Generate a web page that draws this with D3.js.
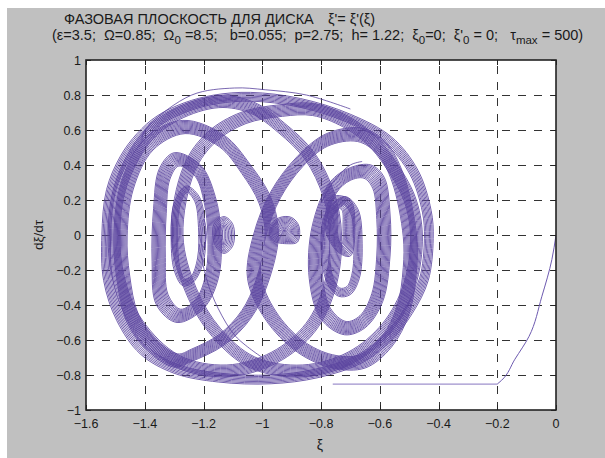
<!DOCTYPE html>
<html lang="ru">
<head>
<meta charset="utf-8">
<script src="https://d3js.org/d3.v7.min.js"></script>
<style>
  body { margin: 0; background: #fff; }
  svg { display: block; }
  text { font-family: "Liberation Sans", Arial, sans-serif; fill: #1a1a1a; white-space: pre; }
</style>
</head>
<body>
<svg id="chart" width="605" height="458"></svg>
<script>
// axis ticks
var xTicks = [-1.6, -1.4, -1.2, -1, -0.8, -0.6, -0.4, -0.2, 0];
var yTicks = [-1, -0.8, -0.6, -0.4, -0.2, 0, 0.2, 0.4, 0.6, 0.8, 1];

// trajectory bands: [xi, dxi/dtau]
var ringO = [[-1.546,0],[-1.53,0.26],[-1.483,0.45],[-1.426,0.58],[-1.358,0.68],[-1.266,0.755],[-1.163,0.8],[-1.04,0.815],[-0.87,0.78],[-0.7,0.69],[-0.56,0.56],[-0.47,0.37],[-0.425,0.14],[-0.418,-0.02],[-0.435,-0.26],[-0.49,-0.45],[-0.56,-0.6],[-0.66,-0.73],[-0.81,-0.815],[-0.97,-0.85],[-1.15,-0.84],[-1.3,-0.79],[-1.415,-0.68],[-1.495,-0.49],[-1.54,-0.26]];
var ringL = [[-1.525,0],[-1.5,0.3],[-1.41,0.58],[-1.3,0.72],[-1.15,0.795],[-1.03,0.76],[-0.925,0.64],[-0.823,0.47],[-0.755,0.24],[-0.73,0],[-0.75,-0.3],[-0.82,-0.55],[-0.95,-0.73],[-1.12,-0.81],[-1.3,-0.75],[-1.44,-0.53],[-1.505,-0.28]];
var ringR = [[-1.31,0],[-1.266,0.4],[-1.186,0.587],[-1.073,0.7],[-0.936,0.745],[-0.823,0.75],[-0.71,0.68],[-0.618,0.57],[-0.55,0.43],[-0.48,0.22],[-0.455,0],[-0.48,-0.3],[-0.56,-0.55],[-0.69,-0.73],[-0.86,-0.81],[-1.04,-0.76],[-1.17,-0.58],[-1.26,-0.33]];
var ringA = [[-1.505,0],[-1.48,0.3],[-1.4,0.55],[-1.27,0.655],[-1.13,0.57],[-1.04,0.4],[-0.97,0.21],[-0.945,0],[-0.983,-0.286],[-1.039,-0.476],[-1.13,-0.629],[-1.243,-0.724],[-1.3,-0.755],[-1.39,-0.66],[-1.46,-0.5],[-1.495,-0.25]];
var ringF = [[-0.475,0],[-0.52,0.35],[-0.58,0.53],[-0.66,0.61],[-0.78,0.58],[-0.88,0.45],[-0.97,0.25],[-1.03,0],[-1.05,-0.25],[-0.99,-0.48],[-0.88,-0.67],[-0.76,-0.76],[-0.65,-0.76],[-0.56,-0.64],[-0.5,-0.45],[-0.475,-0.2]];
var ringB = [[-1.3,0.47],[-1.21,0.4],[-1.16,0.22],[-1.14,0],[-1.15,-0.25],[-1.2,-0.42],[-1.29,-0.5],[-1.36,-0.4],[-1.375,-0.15],[-1.37,0.15],[-1.35,0.38]];
var ringD = [[-0.63,0.4],[-0.585,0.33],[-0.565,0.12],[-0.565,-0.12],[-0.59,-0.38],[-0.65,-0.53],[-0.72,-0.57],[-0.8,-0.48],[-0.84,-0.25],[-0.83,0.05],[-0.77,0.3],[-0.7,0.385]];
var ringC = [[-1.26,0.28],[-1.215,0.22],[-1.195,0.05],[-1.2,-0.15],[-1.235,-0.27],[-1.27,-0.29],[-1.3,-0.2],[-1.31,0],[-1.3,0.18]];
var ringE = [[-0.72,0.22],[-0.675,0.15],[-0.66,-0.05],[-0.67,-0.25],[-0.7,-0.34],[-0.74,-0.35],[-0.78,-0.27],[-0.8,-0.06],[-0.785,0.12]];
var blobLeft = [[-1.13,0.105],[-1.1,0.06],[-1.1,-0.06],[-1.13,-0.105],[-1.16,-0.06],[-1.165,0.06]];
var blobMid = [[-0.94,0.1],[-0.9,0.1],[-0.875,0.05],[-0.88,-0.04],[-0.91,-0.05],[-0.965,-0.03],[-0.975,0.05]];
var blobRight = [[-0.76,0.22],[-0.7,0.2],[-0.685,0.05],[-0.7,-0.12],[-0.74,-0.1],[-0.78,0],[-0.785,0.12]];
// band width (in xi units) for each ring above
var ringList = [ringO, ringL, ringR, ringA, ringF, ringB, ringD, ringC, ringE, blobLeft, blobMid, blobRight];
var ringSpread = [0.03, 0.04, 0.04, 0.045, 0.045, 0.045, 0.045, 0.022, 0.028, 0.03, 0.045, 0.04];
// single passes
var topArc = [[-1.41,0.56],[-1.39,0.62],[-1.24,0.8],[-1.095,0.84],[-0.99,0.83],[-0.85,0.8],[-0.7,0.72]];
var strayLower = [[-1.215,-0.05],[-1.19,-0.25],[-1.15,-0.42],[-1.09,-0.58],[-1.0,-0.7]];
var strayUpper = [[-0.8,0.18],[-0.76,0.3],[-0.7,0.4],[-0.66,0.42]];
var tinyLoop = [[-1.2,0.09],[-1.19,0],[-1.2,-0.07],[-1.213,0]];
var transient = [[0,0],[-0.014,-0.14],[-0.048,-0.35],[-0.092,-0.58],[-0.14,-0.71],[-0.185,-0.83],[-0.2,-0.852],[-0.76,-0.852]];

var svg = d3.select('#chart');
var purple = '#5a449f';

// figure background
svg.append('rect').attr('x', 7).attr('y', 8).attr('width', 598).attr('height', 450).attr('fill', '#c0c0c0');

var x = d3.scaleLinear().domain([-1.6, 0]).range([86, 556]);
var y = d3.scaleLinear().domain([-1, 1]).range([410, 60]);
var kx = 470 / 1.6, ky = 350 / 2;

svg.append('rect').attr('x', 86).attr('y', 60).attr('width', 470).attr('height', 350).attr('fill', '#fff');

svg.append('clipPath').attr('id', 'clip')
   .append('rect').attr('x', 86).attr('y', 60).attr('width', 470).attr('height', 350);

// grid
var grid = svg.append('g').attr('stroke', '#333').attr('stroke-width', 1).attr('stroke-dasharray', '8,8');
grid.selectAll('.gx').data(xTicks.slice(1, -1)).enter().append('line')
    .attr('x1', d => Math.round(x(d)) + 0.5).attr('x2', d => Math.round(x(d)) + 0.5)
    .attr('y1', 410).attr('y2', 60);
grid.selectAll('.gy').data(yTicks.slice(1, -1)).enter().append('line')
    .attr('y1', d => Math.round(y(d)) + 0.5).attr('y2', d => Math.round(y(d)) + 0.5)
    .attr('x1', 86).attr('x2', 556);

// trajectory
var plot = svg.append('g').attr('clip-path', 'url(#clip)');
var line = d3.line().x(d => x(d[0])).y(d => y(d[1])).curve(d3.curveCatmullRomClosed);
var openLine = d3.line().x(d => x(d[0])).y(d => y(d[1])).curve(d3.curveCatmullRom);

ringList.forEach(function (pts, k) {
    var ex = d3.extent(pts, p => p[0]), ey = d3.extent(pts, p => p[1]);
    var cx = (ex[0] + ex[1]) / 2, cy = (ey[0] + ey[1]) / 2;
    var rx = (ex[1] - ex[0]) / 2, ry = (ey[1] - ey[0]) / 2;
    var w = ringSpread[k];               // band width, xi units
    var wy = w * kx / ky;                // same width in pixels along the other axis
    var n = Math.max(4, Math.round(w * kx / 1.05));
    for (var i = 0; i < n; i++) {
        var t = i / (n - 1);
        var fx = Math.max(0, 1 - w * t / rx), fy = Math.max(0, 1 - wy * t / ry);
        var p2 = pts.map(p => [cx + (p[0] - cx) * fx, cy + (p[1] - cy) * fy]);
        plot.append('path').attr('d', line(p2)).attr('fill', 'none')
            .attr('stroke', purple).attr('stroke-width', 0.9).attr('opacity', 0.95);
    }
});
[topArc, strayLower, strayUpper].forEach(function (pts) {
    plot.append('path').attr('d', openLine(pts)).attr('fill', 'none')
        .attr('stroke', purple).attr('stroke-width', 0.9).attr('opacity', 0.9);
});
plot.append('path').attr('d', line(tinyLoop)).attr('fill', 'none')
    .attr('stroke', purple).attr('stroke-width', 0.9).attr('opacity', 0.8);
plot.append('path').attr('d', d3.line().x(d => x(d[0])).y(d => y(d[1])).curve(d3.curveMonotoneY)(transient.slice(0, 7)))
    .attr('fill', 'none').attr('stroke', '#6d5ab0').attr('stroke-width', 1);
plot.append('path').attr('d', d3.line().x(d => x(d[0])).y(d => y(d[1]))(transient.slice(6)))
    .attr('fill', 'none').attr('stroke', '#8676c0').attr('stroke-width', 1);

// axes box and inner ticks
svg.append('rect').attr('x', 86).attr('y', 60).attr('width', 470).attr('height', 350)
   .attr('fill', 'none').attr('stroke', '#222').attr('stroke-width', 1.6);
var ticks = svg.append('g').attr('stroke', '#222').attr('stroke-width', 1);
xTicks.forEach(function (t) {
    var px = Math.round(x(t)) + 0.5;
    ticks.append('line').attr('x1', px).attr('x2', px).attr('y1', 410).attr('y2', 405);
    ticks.append('line').attr('x1', px).attr('x2', px).attr('y1', 60).attr('y2', 65);
});
yTicks.forEach(function (t) {
    var py = Math.round(y(t)) + 0.5;
    ticks.append('line').attr('x1', 86).attr('x2', 91).attr('y1', py).attr('y2', py);
    ticks.append('line').attr('x1', 556).attr('x2', 551).attr('y1', py).attr('y2', py);
});

// tick labels
svg.selectAll('.xl').data(xTicks).enter().append('text')
   .attr('x', d => x(d)).attr('y', 428).attr('text-anchor', 'middle')
   .attr('font-size', 12.5).text(d => d3.format('')(d));
svg.selectAll('.yl').data(yTicks).enter().append('text')
   .attr('x', 81).attr('y', d => y(d) + 4.5).attr('text-anchor', 'end')
   .attr('font-size', 12.5).text(d => d3.format('')(d));

// axis labels
svg.append('text').attr('x', 320).attr('y', 450).attr('text-anchor', 'middle')
   .attr('font-size', 14).text('ξ');
svg.append('text').attr('transform', 'translate(43,235) rotate(-90)').attr('text-anchor', 'middle')
   .attr('font-size', 13.5).text('dξ/dτ');

// title
var t1 = svg.append('text').attr('x', 64).attr('y', 24).attr('font-size', 14.5);
t1.append('tspan').text('ФАЗОВАЯ ПЛОСКОСТЬ ДЛЯ ДИСКА');
t1.append('tspan').attr('x', 328).text("ξ'= ξ'(ξ)");

var t2 = svg.append('text').attr('x', 52).attr('y', 40).attr('font-size', 14.5);
var parts = [['(ε=3.5;  Ω=0.85;  Ω', 0], ['0', 1], [' =8.5;   b=0.055;  p=2.75;  h= 1.22;  ξ', 0], ['0', 1],
             ["=0;  ξ'", 0], ['0', 1], [' = 0;   τ', 0], ['max', 1], [' = 500)', 0]];
var prevSub = false;
parts.forEach(function (p) {
    var dy = p[1] ? 4 : (prevSub ? -4 : 0);
    t2.append('tspan').attr('dy', dy).attr('font-size', p[1] ? 11.5 : 14.5).text(p[0]);
    prevSub = !!p[1];
});
</script>
</body>
</html>
